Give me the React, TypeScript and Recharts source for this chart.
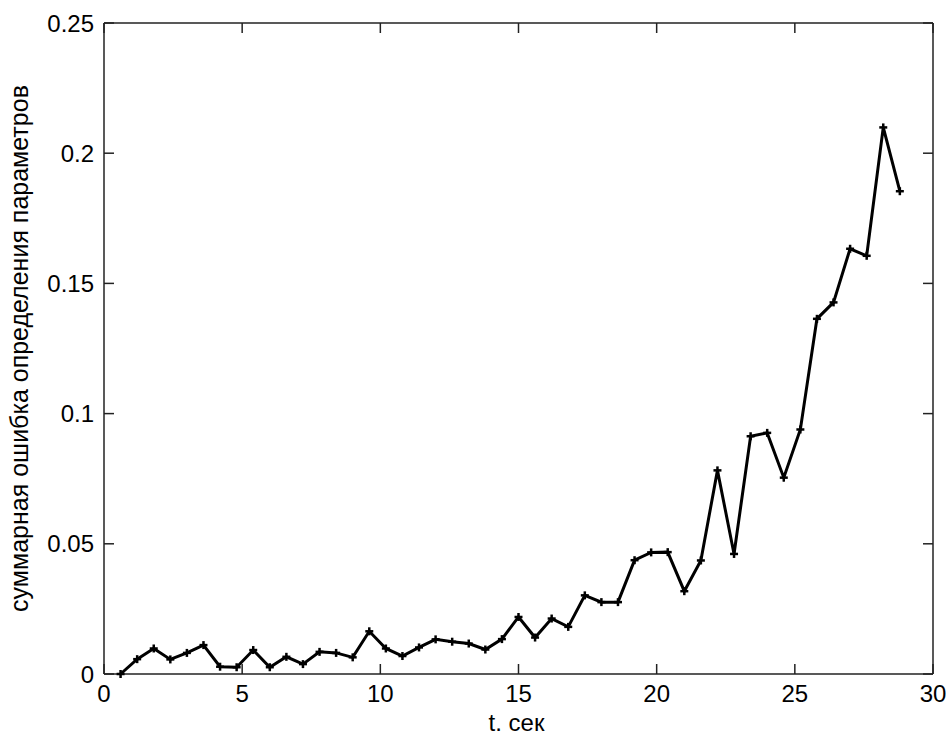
import { Line, LineChart, XAxis, YAxis } from "recharts";

const times = [
  0.6, 1.2, 1.8, 2.4, 3.0, 3.6, 4.2, 4.8, 5.4, 6.0, 6.6, 7.2, 7.8, 8.4, 9.0, 9.6,
  10.2, 10.8, 11.4, 12.0, 12.6, 13.2, 13.8, 14.4, 15.0, 15.6, 16.2, 16.8, 17.4,
  18.0, 18.6, 19.2, 19.8, 20.4, 21.0, 21.6, 22.2, 22.8, 23.4, 24.0, 24.6, 25.2,
  25.8, 26.4, 27.0, 27.6, 28.2, 28.8,
];

const errors = [
  0.0, 0.0057, 0.0098, 0.0056, 0.0081, 0.0111, 0.0028, 0.0026, 0.0092, 0.0026,
  0.0066, 0.0038, 0.0085, 0.0081, 0.0064, 0.0164, 0.0098, 0.0069, 0.0102, 0.0133,
  0.0124, 0.0117, 0.0094, 0.0134, 0.0219, 0.014, 0.0213, 0.0181, 0.0302, 0.0276,
  0.0276, 0.0437, 0.0467, 0.0468, 0.0318, 0.0436, 0.0782, 0.0461, 0.0913, 0.0926,
  0.0754, 0.0939, 0.1364, 0.1427, 0.1633, 0.1606, 0.2099, 0.1854,
];

const xTicks = [0, 5, 10, 15, 20, 25, 30];
const yTicks = [0, 0.05, 0.1, 0.15, 0.2, 0.25];

const xTitle = "t. сек";
const yTitle = "суммарная ошибка определения параметров";

const data = times.map((t, i) => ({ t, err: errors[i] }));

const FONT = "'Liberation Sans', Arial, sans-serif";
const AXIS = "#222";
const TICK_LEN = 10;

const BottomTick = (props: any) => {
  const { x, y, payload } = props;
  return (
    <g>
      <line x1={x} y1={y} x2={x} y2={y - TICK_LEN} stroke={AXIS} strokeWidth={1.5} />
      <text x={x} y={y + 28} textAnchor="middle" fontFamily={FONT} fontSize={24} fill="#000">
        {payload.value}
      </text>
    </g>
  );
};

const TopTick = (props: any) => {
  const { x, y } = props;
  return <line x1={x} y1={y} x2={x} y2={y + TICK_LEN} stroke={AXIS} strokeWidth={1.5} />;
};

const LeftTick = (props: any) => {
  const { x, y, payload } = props;
  return (
    <g>
      <line x1={x} y1={y} x2={x + TICK_LEN} y2={y} stroke={AXIS} strokeWidth={1.5} />
      <text x={x - 10} y={y + 8.5} textAnchor="end" fontFamily={FONT} fontSize={24} fill="#000">
        {payload.value}
      </text>
    </g>
  );
};

const RightTick = (props: any) => {
  const { x, y } = props;
  return <line x1={x} y1={y} x2={x - TICK_LEN} y2={y} stroke={AXIS} strokeWidth={1.5} />;
};

const PlusDot = (props: any) => {
  const { cx, cy } = props;
  if (cx == null || cy == null) return null;
  return (
    <g>
      <line x1={cx - 4} y1={cy} x2={cx + 4} y2={cy} stroke="#000" strokeWidth={2.5} />
      <line x1={cx} y1={cy - 4} x2={cx} y2={cy + 4} stroke="#000" strokeWidth={2.5} />
    </g>
  );
};

const App = () => {
  return (
    <div style={{ position: "absolute", left: 0, top: 0, background: "#fff" }}>
      <LineChart
        width={946}
        height={737}
        data={data}
        margin={{ top: 22, right: 12, bottom: 0, left: 0 }}
      >
        <XAxis
          dataKey="t"
          type="number"
          domain={[0, 30]}
          ticks={xTicks}
          height={63}
          tickSize={0}
          tickMargin={0}
          tickLine={false}
          axisLine={{ stroke: AXIS, strokeWidth: 1.5 }}
          tick={BottomTick}
          interval={0}
          label={{
            content: (p: any) => {
              const vb = p.viewBox;
              return (
                <text
                  x={vb.x + vb.width / 2 - 2}
                  y={vb.y + 57}
                  textAnchor="middle"
                  fontFamily={FONT}
                  fontSize={24}
                  fill="#000"
                >
                  {xTitle}
                </text>
              );
            },
          }}
        />
        <XAxis
          xAxisId="top"
          dataKey="t"
          orientation="top"
          type="number"
          domain={[0, 30]}
          ticks={xTicks}
          height={1}
          tickSize={0}
          tickMargin={0}
          tickLine={false}
          axisLine={{ stroke: AXIS, strokeWidth: 1.5 }}
          tick={TopTick}
          interval={0}
        />
        <YAxis
          type="number"
          domain={[0, 0.25]}
          ticks={yTicks}
          width={104}
          tickSize={0}
          tickMargin={0}
          tickLine={false}
          axisLine={{ stroke: AXIS, strokeWidth: 1.5 }}
          tick={LeftTick}
          interval={0}
          label={{
            content: (p: any) => {
              const vb = p.viewBox;
              const cx = vb.x + 28;
              const cy = vb.y + vb.height / 2;
              return (
                <text
                  x={cx}
                  y={cy}
                  transform={`rotate(-90, ${cx}, ${cy})`}
                  textAnchor="middle"
                  fontFamily={FONT}
                  fontSize={25}
                  fill="#000"
                >
                  {yTitle}
                </text>
              );
            },
          }}
        />
        <YAxis
          yAxisId="right"
          orientation="right"
          type="number"
          domain={[0, 0.25]}
          ticks={yTicks}
          width={1}
          tickSize={0}
          tickMargin={0}
          tickLine={false}
          axisLine={{ stroke: AXIS, strokeWidth: 1.5 }}
          tick={RightTick}
          interval={0}
        />
        {/* invisible copy so the top/right box axes get drawn */}
        <Line
          xAxisId="top"
          yAxisId="right"
          dataKey="err"
          stroke="none"
          dot={false}
          activeDot={false}
          isAnimationActive={false}
        />
        <Line
          dataKey="err"
          type="linear"
          stroke="#000"
          strokeWidth={3}
          dot={PlusDot}
          activeDot={false}
          isAnimationActive={false}
        />
      </LineChart>
    </div>
  );
};

export default App;
